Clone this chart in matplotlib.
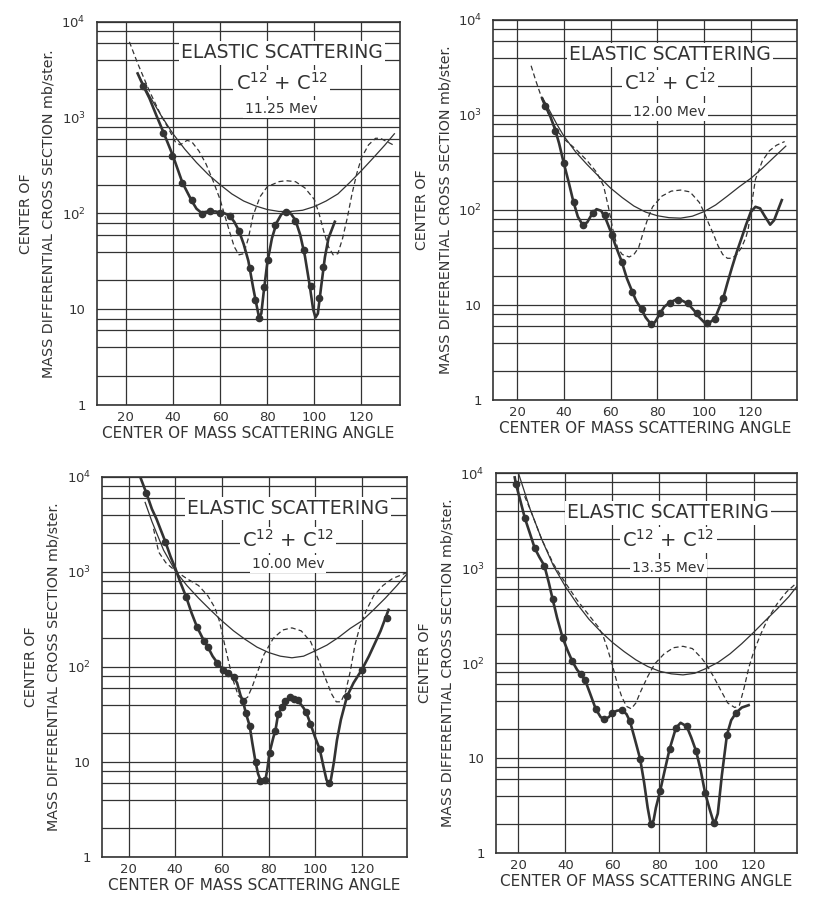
# C12 + C12 elastic scattering - four energies, redrawn from a scanned figure
import matplotlib
matplotlib.use("Agg")
import matplotlib.pyplot as plt
from matplotlib.ticker import FixedLocator, NullFormatter

INK = "#333333"
plt.rcParams["font.family"] = ["DejaVu Sans"]
plt.rcParams["mathtext.default"] = "regular"

# ---- 11.25 Mev ----
pts_1125_x = [27.4, 35.8, 39.7, 43.9, 48.0, 52.2, 55.9, 59.9, 64.1, 68.1, 72.8, 74.9,
              76.4, 78.6, 80.3, 83.5, 87.9, 91.9, 95.5, 98.4, 102.0, 103.7]
pts_1125_y = [2140, 690, 400, 210, 138, 99, 107, 102, 95, 66, 27, 12.5,
              8.1, 17, 33, 76, 103, 84, 42, 17.4, 13, 27.7]
fit_1125_x = [25, 27.4, 30, 33, 36, 40, 44, 48, 50, 52, 55, 58, 62, 64, 66, 68, 70, 72,
              74, 75.5, 76.5, 77.5, 78.5, 80, 82, 84, 86, 88, 90, 92, 94, 96, 98,
              99.5, 100.5, 101.5, 103, 104.5, 106, 108.7]
fit_1125_y = [2900, 2150, 1600, 1050, 700, 400, 210, 135, 112, 102, 105, 105, 100, 95,
              82, 66, 48, 32, 17, 11, 8.3, 9, 15, 30, 55, 80, 98, 105, 100, 85, 60, 36,
              18, 10, 8.2, 9, 18, 35, 55, 82]
mott_1125_x = [25, 30, 35, 40, 45, 50, 55, 60, 65, 70, 75, 80, 85, 90, 95, 100, 105,
               110, 115, 120, 125, 130, 134]
mott_1125_y = [2900, 1700, 1050, 680, 470, 340, 255, 200, 160, 135, 120, 110, 105, 105,
               108, 118, 135, 160, 210, 280, 380, 520, 680]
theo_1125_x = [21.5, 25, 30, 35, 38, 41, 43, 46, 48, 51, 54, 57, 60, 62, 64, 66, 68, 70,
               72, 74, 77, 80, 85, 88, 92, 96, 100, 102, 104, 106, 108, 110, 112, 114,
               116, 118, 120, 123, 126, 128, 131, 133.5]
theo_1125_y = [6200, 3700, 1900, 1050, 780, 560, 520, 580, 560, 450, 330, 220, 140, 95,
               65, 45, 37, 38, 55, 95, 150, 190, 215, 220, 215, 185, 140, 100, 65, 45,
               37, 38, 55, 90, 160, 260, 380, 520, 610, 610, 560, 520]

# ---- 12.00 Mev ----
pts_1200_x = [31.9, 36.3, 40.0, 44.3, 48.3, 52.4, 57.6, 60.7, 64.7, 69.3, 73.3, 77.3,
              81.1, 85.4, 89.0, 93.0, 96.9, 101.1, 104.7, 108.3]
pts_1200_y = [1245, 680, 310, 122, 70, 93, 89, 55, 28.6, 13.8, 9.0, 6.3,
              8.2, 10.4, 11.3, 10.4, 8.2, 6.5, 7.2, 11.9]
fit_1200_x = [30.7, 32, 34, 36.3, 38, 40, 42, 44, 46, 48, 50, 52, 54, 56, 58, 60, 62,
              64.7, 67, 69.3, 71, 73.3, 75, 77.5, 79, 81, 83, 85.4, 88, 90, 93, 96, 98,
              100, 101.5, 103, 104.7, 106, 108.3, 110, 112, 114, 116, 118, 120, 122,
              124, 126, 128.3, 130, 132, 133.3]
fit_1200_y = [1500, 1250, 1000, 700, 500, 310, 200, 125, 85, 70, 74, 90, 102, 98, 80,
              60, 43, 29, 19, 13.8, 11, 9, 7.4, 6.2, 6.6, 8, 9.6, 10.6, 11.4, 11.3, 10.4,
              8.6, 7.4, 6.6, 6.4, 6.7, 7.2, 8.7, 12, 17, 25, 36, 50, 70, 95, 108, 104,
              86, 70, 78, 105, 127]
mott_1200_x = [31, 34, 37, 40, 45, 50, 55, 60, 65, 70, 75, 80, 85, 90, 95, 100, 105,
               110, 115, 120, 125, 130, 135]
mott_1200_y = [1500, 1100, 800, 600, 410, 300, 225, 170, 135, 110, 95, 87, 83, 82, 86,
               96, 113, 140, 175, 215, 275, 360, 470]
theo_1200_x = [26, 28, 31, 34, 37, 40, 45, 50, 54, 57, 59, 61, 63, 65, 68, 70, 72, 74,
               76, 78, 82, 86, 90, 94, 98, 100, 102, 104, 106, 108, 110, 112, 114, 116,
               118, 119, 120.5, 122, 125, 128, 131, 134.5]
theo_1200_y = [3300, 2300, 1400, 950, 690, 560, 440, 330, 250, 180, 110, 62, 40, 34, 32,
               34, 40, 58, 82, 108, 140, 158, 162, 155, 120, 95, 72, 56, 42, 34, 31, 31,
               34, 40, 52, 65, 120, 210, 330, 420, 480, 525]

# ---- 10.00 Mev ----
pts_1000_x = [27.6, 35.7, 44.7, 49.3, 52.4, 54.0, 57.9, 60.4, 62.6, 65.0, 68.9, 70.3,
              71.9, 74.4, 76.4, 78.6, 80.4, 82.9, 84.0, 85.7, 87.1, 89.3, 90.7, 92.6,
              96.1, 97.9, 101.9, 105.7, 113.6, 120.0, 130.7]
pts_1000_y = [6800, 2050, 545, 265, 190, 162, 111, 94, 86, 79, 44, 32.4,
              24, 9.9, 6.3, 6.4, 12.5, 21, 31.8, 37.8, 44, 48.6, 46, 45,
              33.5, 25.4, 13.7, 6.0, 49, 94, 325]
fit_1000_x = [25, 27.6, 30, 32, 35.7, 38, 40, 42, 44.7, 47, 49.3, 52, 54, 56, 58, 60.4,
              62.6, 65, 66.5, 68, 69, 70.3, 71.9, 73, 74.4, 75.5, 77, 78.6, 79.5, 80.4,
              82, 83, 84, 85.7, 87.1, 89.3, 91, 93, 95, 96.1, 97.9, 100, 101.9, 103.5,
              104.8, 105.7, 106.7, 108, 109.3, 111, 113.6, 116.4, 120, 123, 125, 128,
              131.4]
fit_1000_y = [10000, 6800, 4600, 3600, 2100, 1450, 1100, 800, 545, 370, 265, 195, 162,
              130, 111, 94, 86, 79, 68, 50, 44, 32.4, 24, 16, 10, 7.5, 6.0, 6.4, 8.5,
              12.5, 18, 22, 31, 38, 44, 48.6, 47, 43, 37, 33.5, 25.4, 18, 13.7, 9, 6.5,
              5.9, 6.5, 10, 17, 28, 49, 68, 94, 130, 166, 240, 400]
mott_1000_x = [27.1, 30, 35, 40, 45, 50, 55, 60, 65, 70, 75, 80, 85, 90, 95, 100, 105,
               110, 115, 120, 125, 130, 135, 139.3]
mott_1000_y = [5400, 3400, 1700, 1030, 720, 530, 400, 306, 240, 195, 162, 142, 130, 125,
               130, 148, 170, 205, 255, 306, 400, 530, 720, 955]
theo_1000_x = [30.7, 32.9, 36, 40, 45, 50, 54, 57, 59, 61, 63, 65, 67, 69, 71, 73, 75,
               78, 82, 86, 90, 94, 98, 101, 104, 107, 109, 111, 113, 115, 117, 119, 122,
               125, 129, 133, 139]
theo_1000_y = [2850, 1620, 1250, 1030, 850, 720, 560, 420, 300, 180, 110, 70, 50, 45,
               48, 62, 85, 135, 200, 245, 258, 240, 185, 125, 80, 52, 43, 43, 55, 90,
               170, 260, 400, 560, 720, 850, 980]

# ---- 13.35 Mev ----
pts_1335_x = [19.0, 22.8, 27.0, 31.1, 34.6, 38.9, 43.0, 46.5, 48.4, 52.9, 56.6, 60.0,
              64.0, 67.5, 71.8, 76.3, 80.3, 84.3, 87.0, 91.6, 95.6, 99.4, 103.3, 108.7,
              112.6]
pts_1335_y = [7700, 3360, 1620, 1060, 472, 183, 104, 77, 66, 33, 25.7, 29.8,
              31.7, 24.3, 9.8, 2.0, 4.5, 12.4, 20.7, 21.5, 11.8, 4.3, 2.07, 17.6, 30]
fit_1335_x = [18.5, 19, 21, 22.8, 25, 27, 29, 31.1, 33, 34.6, 36.5, 38.9, 41, 43, 45,
              46.5, 48.4, 50.5, 52.9, 55, 56.6, 58.5, 60, 62, 64, 66, 67.5, 69.5, 71.8,
              73.5, 75, 76.3, 77.5, 78.5, 80.3, 82.3, 84.3, 87, 89, 91.6, 93.5, 95.6,
              97.5, 99.4, 101.5, 103.3, 104.8, 106.5, 108.7, 110.5, 112.6, 115, 117.9]
fit_1335_y = [9000, 7700, 5000, 3360, 2300, 1620, 1300, 1060, 700, 472, 300, 183, 135,
              104, 85, 77, 66, 48, 33, 27, 25.5, 27, 29.8, 31.5, 32, 29, 24.3, 16, 9.8,
              5.5, 3.0, 2.0, 2.2, 3.0, 4.5, 7.5, 12.4, 20.7, 23.5, 21.5, 16.5, 11.8, 7.5,
              4.3, 2.8, 2.0, 2.6, 6.5, 17.6, 25, 30, 34, 36]
mott_1335_x = [20.3, 25, 30, 35, 40, 45, 50, 55, 60, 65, 70, 75, 80, 85, 90, 95, 100,
               105, 110, 115, 120, 125, 130, 135, 138.4]
mott_1335_y = [9600, 4200, 2000, 1050, 640, 420, 290, 215, 165, 132, 108, 92, 82, 77,
               75, 78, 88, 102, 125, 160, 210, 280, 370, 500, 640]
theo_1335_x = [22.7, 25, 30, 35, 40, 45, 50, 54, 56, 58, 60, 62, 64, 66, 68, 70, 72, 75,
               78, 82, 86, 90, 94, 98, 100, 103, 106, 109, 112, 114, 116, 118, 120, 123,
               126, 130, 134, 138.4]
theo_1335_y = [5700, 4200, 2000, 1100, 700, 460, 320, 240, 195, 140, 95, 62, 44, 35, 33,
               38, 50, 72, 98, 125, 145, 150, 142, 112, 96, 72, 52, 38, 34, 36, 55, 90,
               130, 200, 290, 420, 560, 700]

energy_labels = ["11.25 Mev", "12.00 Mev", "10.00 Mev", "13.35 Mev"]

panels = [
    (pts_1125_x, pts_1125_y, fit_1125_x, fit_1125_y, mott_1125_x, mott_1125_y, theo_1125_x, theo_1125_y),
    (pts_1200_x, pts_1200_y, fit_1200_x, fit_1200_y, mott_1200_x, mott_1200_y, theo_1200_x, theo_1200_y),
    (pts_1000_x, pts_1000_y, fit_1000_x, fit_1000_y, mott_1000_x, mott_1000_y, theo_1000_x, theo_1000_y),
    (pts_1335_x, pts_1335_y, fit_1335_x, fit_1335_y, mott_1335_x, mott_1335_y, theo_1335_x, theo_1335_y),
]

# layout (figure fractions) and per-panel details
rects = [[0.118, 0.550, 0.369, 0.4256],
         [0.6005, 0.5556, 0.370, 0.4222],
         [0.1242, 0.0478, 0.3715, 0.4222],
         [0.604, 0.0522, 0.3666, 0.4222]]
xlims = [(7.7, 136.3), (9.7, 139.7), (8.6, 139.3), (10.5, 138.4)]
text_x = [0.61, 0.582, 0.61, 0.573]
text_y = [(0.919, 0.84, 0.773), (0.908, 0.834, 0.758), (0.918, 0.834, 0.771), (0.895, 0.824, 0.75)]

fig = plt.figure(figsize=(8.21, 9.0), dpi=100)
fig.patch.set_facecolor("white")

major_y = [1, 10, 100, 1000, 10000]
minor_y = [m * d for d in (1, 10, 100, 1000) for m in (2, 4, 6, 8)]

for i, (px, py, fx, fy, mx, my, tx, ty) in enumerate(panels):
    ax = fig.add_axes(rects[i])
    ax.set_yscale("log")
    ax.set_ylim(1, 10000)
    ax.set_xlim(*xlims[i])

    ax.plot(tx, ty, color=INK, lw=0.9, ls=(0, (4, 2.5)), zorder=3)
    ax.plot(mx, my, color=INK, lw=0.9, zorder=3)
    ax.plot(fx, fy, color=INK, lw=1.9, zorder=4)
    ax.plot(px, py, "o", color=INK, ms=4.5, zorder=5)

    ax.xaxis.set_major_locator(FixedLocator([20, 40, 60, 80, 100, 120]))
    ax.yaxis.set_major_locator(FixedLocator(major_y))
    ax.yaxis.set_minor_locator(FixedLocator(minor_y))
    ax.yaxis.set_minor_formatter(NullFormatter())
    ax.set_yticklabels(["1", "10", "10$^2$", "10$^3$", "10$^4$"])
    ax.grid(True, which="both", color=INK, lw=0.9)
    ax.set_axisbelow(True)
    ax.tick_params(which="both", length=0, labelsize=9.5, colors=INK)
    ax.tick_params(axis="x", pad=4)
    ax.tick_params(axis="y", pad=8)
    for s in ax.spines.values():
        s.set_color(INK)
        s.set_linewidth(1.2)

    ax.set_xlabel("CENTER OF MASS SCATTERING ANGLE", fontsize=11, color=INK, labelpad=2)
    ax.set_ylabel("CENTER OF\nMASS DIFFERENTIAL CROSS SECTION mb/ster.",
                  fontsize=10.3, color=INK, linespacing=1.85, labelpad=4)

    box = dict(facecolor="white", edgecolor="none", pad=1.5)
    y1, y2, y3 = text_y[i]
    ax.text(text_x[i], y1, "ELASTIC SCATTERING", transform=ax.transAxes, ha="center",
            va="center", fontsize=13.5, color=INK, bbox=box, zorder=6)
    ax.text(text_x[i], y2, "C$^{12}$ + C$^{12}$", transform=ax.transAxes, ha="center",
            va="center", fontsize=14, color=INK, bbox=box, zorder=6)
    ax.text(text_x[i], y3, energy_labels[i], transform=ax.transAxes, ha="center",
            va="center", fontsize=10, color=INK, bbox=box, zorder=6)

fig.savefig("out.png", dpi=100, facecolor="white")
